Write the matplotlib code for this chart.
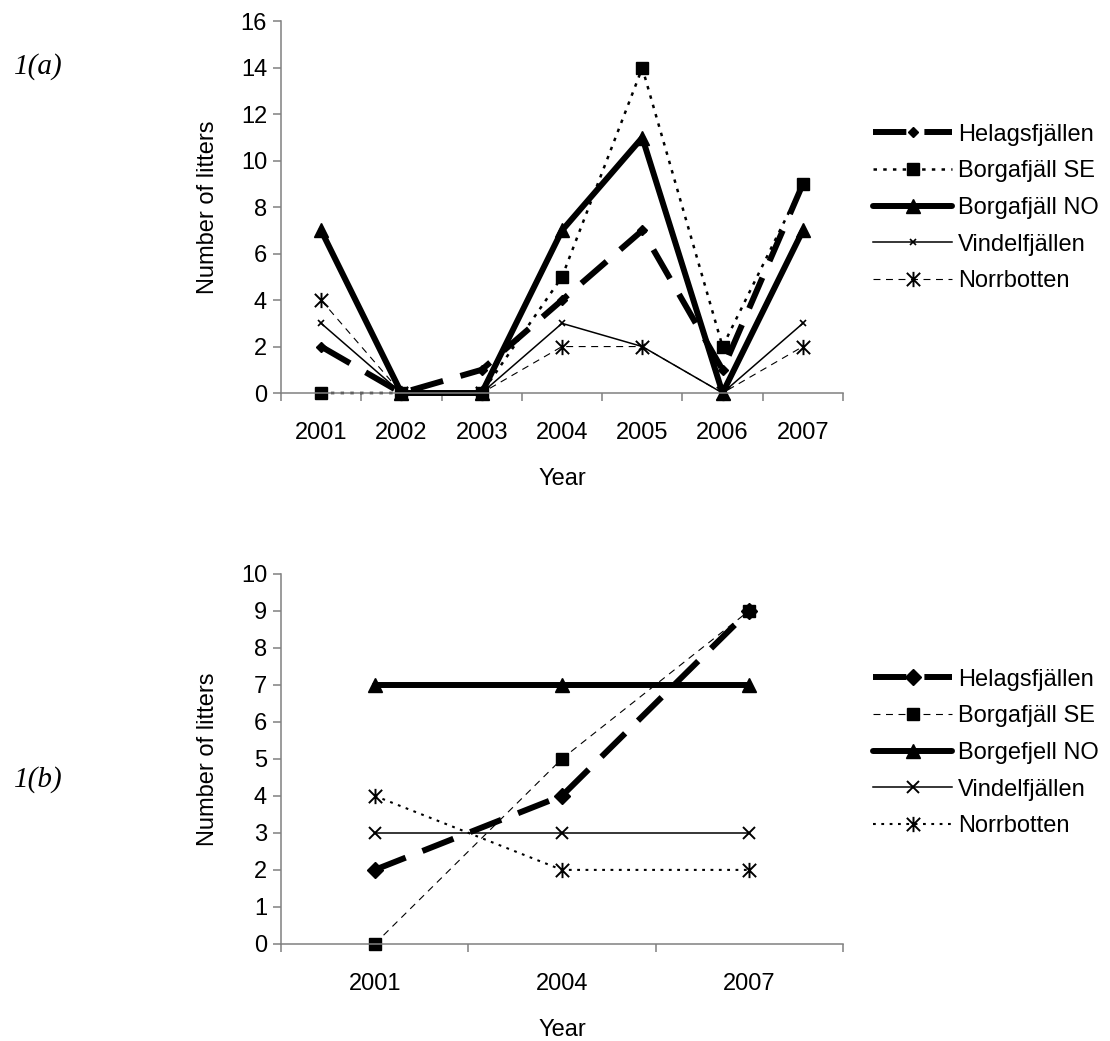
import matplotlib
matplotlib.use("Agg")
import matplotlib.pyplot as plt
import numpy as np
from matplotlib.path import Path

plt.rcParams['font.family'] = ['Liberation Sans', 'DejaVu Sans']
plt.rcParams['lines.scale_dashes'] = False

# ---- data: panel (a)
years_a = ["2001", "2002", "2003", "2004", "2005", "2006", "2007"]
helags_a = [2, 0, 1, 4, 7, 1, 9]
borgSE_a = [0, 0, 0, 5, 14, 2, 9]
borgNO_a = [7, 0, 0, 7, 11, 0, 7]
vindel_a = [3, 0, 0, 3, 2, 0, 3]
norr_a = [4, 0, 0, 2, 2, 0, 2]
labels_a = ["Helagsfjällen", "Borgafjäll SE", "Borgafjäll NO", "Vindelfjällen", "Norrbotten"]

# ---- data: panel (b)
years_b = ["2001", "2004", "2007"]
helags_b = [2, 4, 9]
borgSE_b = [0, 5, 9]
borgNO_b = [7, 7, 7]
vindel_b = [3, 3, 3]
norr_b = [4, 2, 2]
labels_b = ["Helagsfjällen", "Borgafjäll SE", "Borgefjell NO", "Vindelfjällen", "Norrbotten"]

W, H = 1110, 1041
fig = plt.figure(figsize=(W / 100, H / 100), dpi=100)

star = Path([(-1, -1), (1, 1), (-1, 1), (1, -1), (0, -1.15), (0, 1.15)],
            [Path.MOVETO, Path.LINETO, Path.MOVETO, Path.LINETO, Path.MOVETO, Path.LINETO])

FS = 17
GRAY = '#808080'


def setup_axes(ax, cats, ymax, ystep):
    n = len(cats)
    ax.set_xlim(-0.5, n - 0.5)
    ax.set_ylim(0, ymax)
    ax.set_xticks(np.arange(n))
    ax.set_xticklabels(cats, fontsize=FS)
    ax.set_xticks(np.arange(n + 1) - 0.5, minor=True)
    ax.tick_params(axis='x', which='major', length=0, pad=21)
    ax.tick_params(axis='x', which='minor', length=6, width=1.1, color=GRAY, direction='out')
    ax.set_yticks(np.arange(0, ymax + 0.01, ystep))
    ax.tick_params(axis='y', length=6, width=1.1, color=GRAY, direction='out', labelsize=FS, pad=4)
    for s in ['top', 'right']:
        ax.spines[s].set_visible(False)
    for s in ['left', 'bottom']:
        ax.spines[s].set_color(GRAY)
        ax.spines[s].set_linewidth(1.1)
    ax.set_xlabel("Year", fontsize=FS, labelpad=17)
    ax.set_ylabel("Number of litters", fontsize=FS, labelpad=16)


# ---------- panel (a)
ax1 = fig.add_axes([281 / W, 1 - 393 / H, 562 / W, 371.5 / H])
setup_axes(ax1, years_a, 16, 2)
x = np.arange(len(years_a))
h = []
h += ax1.plot(x, helags_a, color='black', lw=4.3, dashes=(24, 13), dash_capstyle='butt',
              marker='D', ms=5, label=labels_a[0], clip_on=False)
h += ax1.plot(x, borgSE_a, color='black', lw=1.8, dashes=(2.5, 4.5),
              marker='s', ms=8.5, label=labels_a[1], clip_on=False)
h += ax1.plot(x, borgNO_a, color='black', lw=4.3, solid_capstyle='round',
              marker='^', ms=10, label=labels_a[2], clip_on=False)
h += ax1.plot(x, vindel_a, color='black', lw=1.1,
              marker='x', ms=4, mew=1.2, label=labels_a[3], clip_on=False)
h += ax1.plot(x, norr_a, color='black', lw=0.8, dashes=(5, 4),
              marker=star, ms=11, mew=1.4, mfc='none', label=labels_a[4], clip_on=False)
fig.legend(handles=h, loc='center left', bbox_to_anchor=(873 / W, 1 - 208 / H),
           frameon=False, fontsize=FS, handlelength=3.35, handletextpad=0.25,
           labelspacing=0.62, borderpad=0, borderaxespad=0)

# ---------- panel (b)
ax2 = fig.add_axes([281 / W, 1 - 944 / H, 562 / W, 370.5 / H])
setup_axes(ax2, years_b, 10, 1)
x = np.arange(len(years_b))
h = []
h += ax2.plot(x, helags_b, color='black', lw=4.3, dashes=(24, 13), dash_capstyle='butt',
              marker='D', ms=8, label=labels_b[0], clip_on=False)
h += ax2.plot(x, borgSE_b, color='black', lw=0.8, dashes=(5, 4),
              marker='s', ms=8.5, label=labels_b[1], clip_on=False)
h += ax2.plot(x, borgNO_b, color='black', lw=4.3, solid_capstyle='round',
              marker='^', ms=10, label=labels_b[2], clip_on=False)
h += ax2.plot(x, vindel_b, color='black', lw=1.1,
              marker='x', ms=9, mew=1.4, label=labels_b[3], clip_on=False)
h += ax2.plot(x, norr_b, color='black', lw=1.5, dashes=(2, 4),
              marker=star, ms=11, mew=1.4, mfc='none', label=labels_b[4], clip_on=False)
fig.legend(handles=h, loc='center left', bbox_to_anchor=(873 / W, 1 - 753 / H),
           frameon=False, fontsize=FS, handlelength=3.35, handletextpad=0.25,
           labelspacing=0.62, borderpad=0, borderaxespad=0)

fig.text(14 / W, 1 - 67 / H, "1(a)", family='Liberation Serif', style='italic',
         fontsize=21, va='center', ha='left')
fig.text(14 / W, 1 - 780 / H, "1(b)", family='Liberation Serif', style='italic',
         fontsize=21, va='center', ha='left')

fig.savefig("out.png", dpi=100)
